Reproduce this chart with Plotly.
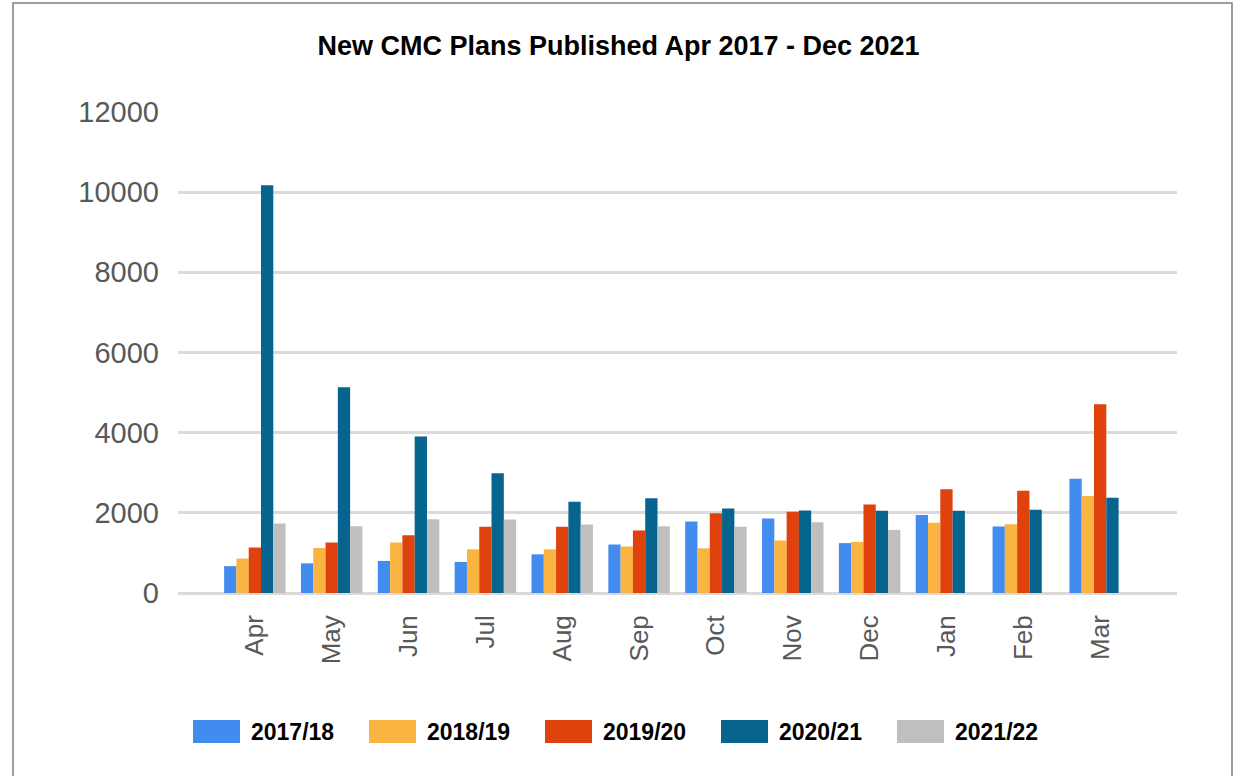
import plotly.graph_objects as go

months = ["Apr", "May", "Jun", "Jul", "Aug", "Sep", "Oct", "Nov", "Dec", "Jan", "Feb", "Mar"]

fy_2017_18 = [670, 740, 800, 775, 965, 1210, 1785, 1860, 1245, 1945, 1660, 2850]
fy_2018_19 = [860, 1125, 1260, 1090, 1090, 1160, 1115, 1310, 1275, 1750, 1715, 2420]
fy_2019_20 = [1135, 1260, 1440, 1655, 1650, 1560, 1990, 2025, 2210, 2590, 2550, 4710]
fy_2020_21 = [10175, 5130, 3905, 2990, 2275, 2365, 2110, 2060, 2050, 2050, 2075, 2375]
fy_2021_22 = [1735, 1665, 1840, 1835, 1710, 1665, 1650, 1765, 1575, None, None, None]

series = [
    ("2017/18", fy_2017_18, "#438CEF"),
    ("2018/19", fy_2018_19, "#FAB441"),
    ("2019/20", fy_2019_20, "#DF420C"),
    ("2020/21", fy_2020_21, "#07648F"),
    ("2021/22", fy_2021_22, "#BFBFBF"),
]

FONT = "Liberation Sans, Arial, sans-serif"

fig = go.Figure()
for name, vals, col in series:
    fig.add_trace(go.Bar(x=months, y=vals, name=name, marker_color=col,
                         marker_line_width=0, showlegend=False))

# plot area in pixels (for the hand-made legend + frame)
L, R, T, B = 178, 1177, 112, 593


def px_x(p):
    return (p - L) / (R - L)


def px_y(p):
    return (B - p) / (B - T)


shapes = [
    dict(type="rect", xref="paper", yref="paper",
         x0=px_x(13), x1=px_x(1232), y0=px_y(790), y1=px_y(3),
         line=dict(color="#7F7F7F", width=1.5), layer="below"),
]
annotations = []
for i, (name, vals, col) in enumerate(series):
    x0 = 193 + 176 * i
    shapes.append(dict(type="rect", xref="paper", yref="paper",
                       x0=px_x(x0), x1=px_x(x0 + 47), y0=px_y(743), y1=px_y(720),
                       fillcolor=col, line=dict(width=0)))
    annotations.append(dict(text="<b>%s</b>" % name, xref="paper", yref="paper",
                            x=px_x(x0 + 56), y=px_y(732), xanchor="left", yanchor="middle",
                            showarrow=False, font=dict(family=FONT, size=23, color="#000000")))

fig.update_layout(
    width=1237, height=776,
    margin=dict(l=L, r=1237 - R, t=T, b=776 - B),
    paper_bgcolor="white", plot_bgcolor="white",
    barmode="group", bargap=0.2, bargroupgap=0,
    title=dict(text="<b>New CMC Plans Published Apr 2017 - Dec 2021</b>",
               x=0.5, xref="container", xanchor="center",
               y=1 - 46 / 776, yref="container", yanchor="middle",
               font=dict(family=FONT, size=27, color="#000000")),
    shapes=shapes,
    annotations=annotations,
    font=dict(family=FONT),
)

fig.update_xaxes(range=[-1, 12], tickangle=-90, showgrid=False, showline=False,
                 tickfont=dict(family=FONT, size=26, color="#595959"),
                 ticklabelstandoff=16)
fig.update_yaxes(range=[0, 12000], dtick=2000, tickformat="d", showgrid=True,
                 gridcolor="#DADADA", gridwidth=2.5, zeroline=True,
                 zerolinecolor="#DADADA", zerolinewidth=2.5, showline=False,
                 tickfont=dict(family=FONT, size=29, color="#595959"),
                 ticklabelstandoff=18)

# no page margin so the figure sits at the window's corner
fig.write_html("out.html", config={"displayModeBar": False},
               post_script="document.body.style.margin='0';")
